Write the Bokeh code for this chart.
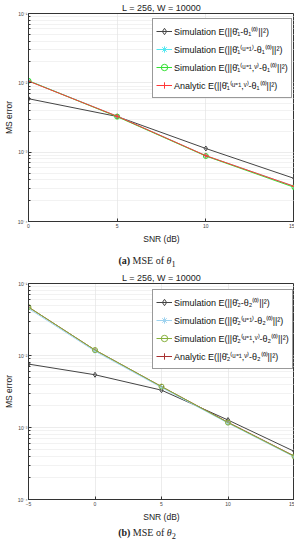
from bokeh.plotting import figure
from bokeh.models import FixedTicker, Legend, LegendItem, Div
from bokeh.layouts import column
from bokeh.embed import file_html
from bokeh.resources import INLINE

# ---------------- data ----------------
title_text = "L = 256, W = 10000"
x_label = "SNR (dB)"
y_label = "MS error"

snr1 = [0, 5, 10, 15]
sim_hat1 = [0.0059, 0.00327, 0.00113, 0.000417]
sim_u1 = [0.0107, 0.0033, 0.00089, 0.00032]
sim_uv1 = [0.0107, 0.00325, 0.00088, 0.00031]
ana_uv1 = [0.0106, 0.0033, 0.00089, 0.00032]

snr2 = [-5, 0, 5, 10, 15]
sim_hat2 = [0.0076, 0.0054, 0.0033, 0.00127, 0.000464]
sim_u2 = [0.045, 0.0115, 0.0036, 0.00115, 0.00039]
sim_uv2 = [0.047, 0.0119, 0.0037, 0.00117, 0.000396]
ana_uv2 = [0.047, 0.0119, 0.0037, 0.00118, 0.0004]

labels1 = [
    "Simulation E(||θ̂₁-θ₁⁽⁰⁾||²)",
    "Simulation E(||θ̂₁⁽ᵘ⁼¹⁾-θ₁⁽⁰⁾||²)",
    "Simulation E(||θ̂₁⁽ᵘ⁼¹,ᵛ⁾-θ₁⁽⁰⁾||²)",
    "Analytic E(||θ̂₁⁽ᵘ⁼¹,ᵛ⁾-θ₁⁽⁰⁾||²)",
]
labels2 = [
    "Simulation E(||θ̂₂-θ₂⁽⁰⁾||²)",
    "Simulation E(||θ̂₂⁽ᵘ⁼¹⁾-θ₂⁽⁰⁾||²)",
    "Simulation E(||θ̂₂⁽ᵘ⁼¹,ᵛ⁾-θ₂⁽⁰⁾||²)",
    "Analytic E(||θ̂₂⁽ᵘ⁼¹,ᵛ⁾-θ₂⁽⁰⁾||²)",
]
y_ticks = [0.1, 0.01, 0.001, 0.0001]
y_tick_labels = ["10⁻¹", "10⁻²", "10⁻³", "10⁻⁴"]
x_ticks1 = [0, 5, 10, 15]
x_ticks2 = [-5, 0, 5, 10, 15]
caption1 = "<b>(a)</b> MSE of <i>θ</i><sub>1</sub>"
caption2 = "<b>(b)</b> MSE of <i>θ</i><sub>2</sub>"

colors1 = ["#444444", "#55e8f0", "#33e033", "#ff3838"]
colors2 = ["#444444", "#9fd3ef", "#86b03c", "#a83030"]
markers = ["diamond", "asterisk", "circle", "cross"]

FONT = "Liberation Sans"

minor = []
for d in [0.0001, 0.001, 0.01]:
    for k in range(2, 10):
        minor.append(d * k)


def make_fig(xs, series, labels, colors, xticks, xr, height, top, bottom,
             legend_loc, order):
    p = figure(width=294, height=height, y_axis_type="log",
               x_range=xr, y_range=(0.0001, 0.1),
               output_backend="svg", toolbar_location=None,
               min_border_left=0, min_border_right=0, min_border_top=top,
               min_border_bottom=bottom)
    p.title.text = title_text
    p.title.align = "center"
    p.title.text_font = FONT
    p.title.text_font_size = "9px"
    p.title.text_font_style = "normal"
    p.title.text_color = "#222222"
    p.title.standoff = 1
    p.title.offset = 0
    p.outline_line_color = "#333333"
    p.outline_line_width = 1

    p.xaxis.ticker = FixedTicker(ticks=xticks)
    p.yaxis.ticker = FixedTicker(ticks=y_ticks, minor_ticks=minor)
    p.yaxis.major_label_overrides = {t: l for t, l in zip(y_ticks, y_tick_labels)}
    for ax in (p.xaxis[0], p.yaxis[0]):
        ax.major_label_text_font = FONT
        ax.major_label_text_font_size = "5px"
        ax.major_label_text_color = "#444444"
        ax.axis_label_text_font = FONT
        ax.axis_label_text_font_size = "8.5px"
        ax.axis_label_text_font_style = "normal"
        ax.axis_label_text_color = "#222222"
        ax.axis_line_color = "#333333"
        ax.major_tick_in = 3
        ax.major_tick_out = 0
        ax.minor_tick_in = 2
        ax.minor_tick_out = 0
        ax.major_label_standoff = 1
        ax.axis_label_standoff = 1
        ax.major_tick_line_color = "#333333"
        ax.minor_tick_line_color = "#333333"
    p.xaxis.major_label_standoff = 2
    p.xaxis.axis_label_standoff = 3
    p.xaxis.axis_label = x_label
    p.yaxis.axis_label = y_label

    p.xgrid.grid_line_color = "#d8d8d8"
    p.xgrid.grid_line_dash = "1 1"
    p.ygrid.grid_line_color = "#d8d8d8"
    p.ygrid.grid_line_dash = "1 1"
    p.ygrid.minor_grid_line_color = "#e4e4e4"
    p.ygrid.minor_grid_line_dash = "1 1"

    items = [None] * 4
    for i in order:
        ys, lab, c, m = series[i], labels[i], colors[i], markers[i]
        r1 = p.line(xs, ys, line_color=c, line_width=1)
        fill = None if m in ("diamond", "circle") else c
        r2 = p.scatter(xs, ys, marker=m, size=5, line_color=c,
                       fill_color=fill, line_width=1)
        items[i] = LegendItem(label=lab, renderers=[r1, r2])

    leg = Legend(items=items, location=legend_loc)
    leg.label_text_font = FONT
    leg.label_text_font_size = "9px"
    leg.label_text_color = "#111111"
    leg.label_height = 18
    leg.glyph_height = 18
    leg.glyph_width = 16
    leg.label_standoff = 2
    leg.spacing = 0
    leg.padding = 3
    leg.margin = 0
    leg.border_line_color = "#333333"
    leg.border_line_width = 1
    leg.background_fill_alpha = 1
    p.add_layout(leg)
    return p


p1 = make_fig(snr1, [sim_hat1, sim_u1, sim_uv1, ana_uv1], labels1, colors1,
              x_ticks1, (0, 15), 254, 13, 33, (124, 123), [0, 1, 2, 3])
p2 = make_fig(snr2, [sim_hat2, sim_u2, sim_uv2, ana_uv2], labels2, colors2,
              x_ticks2, (-5, 15), 256, 12, 27, (124, 130), [0, 3, 1, 2])

cap_style = {"font-family": "Liberation Serif", "font-size": "10px",
             "text-align": "center", "width": "294px", "color": "#222"}
d1 = Div(text=caption1, width=294, height=16, styles=cap_style, margin=(0, 0, 0, 0))
d2 = Div(text=caption2, width=294, height=16, styles=cap_style, margin=(0, 0, 0, 0))

layout = column(p1, d1, p2, d2, spacing=0)
open("out.html", "w").write(file_html(layout, INLINE))
